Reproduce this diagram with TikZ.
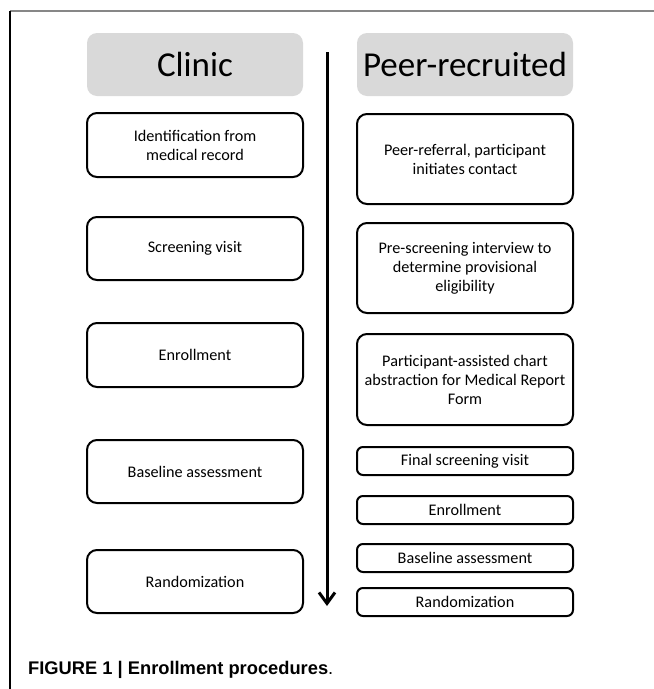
\documentclass[tikz,border=0pt]{standalone}
\usepackage{fontspec}
\setmainfont{Carlito}
\newfontfamily\capfont{Liberation Sans}
\usetikzlibrary{arrows.meta}
\definecolor{hdrgray}{HTML}{D9D9D9}
\definecolor{framegray}{HTML}{878787}
\begin{document}
\begin{tikzpicture}[x=1pt,y=-1pt,
  hdr/.style={fill=hdrgray, rounded corners=10pt, minimum width=216pt, minimum height=63pt,
    inner sep=0pt, font=\fontsize{35}{41}\selectfont},
  bigbox/.style={draw, line width=2pt, rounded corners=10pt, align=center, inner sep=0pt,
    minimum width=216pt, font=\fontsize{16.2}{19}\selectfont},
  smallbox/.style={bigbox, rounded corners=6pt, minimum height=28pt}
]
\useasboundingbox (0,0) rectangle (654,689);
% frame
\coordinate (ftl) at (10,11);
\coordinate (ftr) at (654,11);
\coordinate (fbl) at (10,689);
\draw[framegray, line width=2.5pt] (ftl) -- (ftr);
\draw[line width=1.3pt] (ftl) -- (fbl);
% headers
\node[hdr] (hc) at (195,64.5) {Clinic};
\node[hdr] (hp) at (465,64.5) {Peer-recruited};
% left column
\node[bigbox, minimum height=64pt] (L1) at (195,145) {Identification from\\medical record};
\node[bigbox, minimum height=63pt] (L2) at (195,248.5) {Screening visit};
\node[bigbox, minimum height=64pt] (L3) at (195,355) {Enrollment};
\node[bigbox, minimum height=63pt] (L4) at (195,471.5) {Baseline assessment};
\node[bigbox, minimum height=63pt] (L5) at (195,581.5) {Randomization};
% right column
\node[bigbox, minimum height=90pt] (R1) at (465,159) {Peer-referral, participant\\initiates contact};
\node[bigbox, minimum height=90pt] (R2) at (465,268) {Pre-screening interview to\\determine provisional\\eligibility};
\node[bigbox, minimum height=91pt] (R3) at (465,379.5) {Participant-assisted chart\\abstraction for Medical Report\\Form};
\node[smallbox] (R4) at (465,461) {Final screening visit};
\node[smallbox] (R5) at (465,510) {Enrollment};
\node[smallbox] (R6) at (465,558) {Baseline assessment};
\node[smallbox] (R7) at (465,602) {Randomization};
% time arrow
\coordinate (atop) at (327,52);
\coordinate (abot) at (327,606);
\draw[line width=3pt, -{Straight Barb[length=11pt,width=16pt]}] (atop) -- (abot);
% caption
\node[anchor=base west, inner sep=0pt, font=\capfont\fontsize{18.3}{22}\selectfont] (cap) at (28,674)
  {\bfseries FIGURE 1 | Enrollment procedures\mdseries.};
\end{tikzpicture}
\end{document}
